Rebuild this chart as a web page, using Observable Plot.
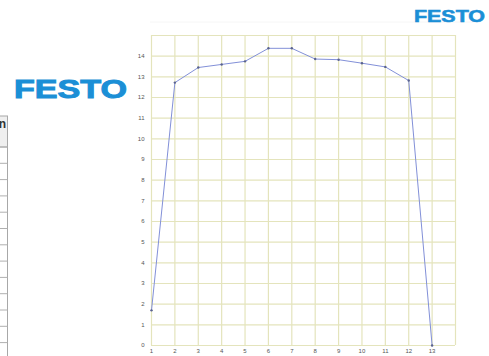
<!DOCTYPE html>
<html>
<head>
<meta charset="utf-8">
<script src="https://cdn.jsdelivr.net/npm/d3@7"></script>
<script src="https://cdn.jsdelivr.net/npm/@observablehq/plot@0.6"></script>
<style>
  html, body { margin: 0; padding: 0; background: #fff; }
  #wrap { position: relative; width: 489px; height: 356px; overflow: hidden; font-family: "Liberation Sans", Arial, sans-serif; }
  #wrap > svg { position: absolute; left: 0; top: 0; }
</style>
</head>
<body>
<div id="wrap"></div>
<script>
// Data
const positions = [1, 2, 3, 4, 5, 6, 7, 8, 9, 10, 11, 12, 13];
const values = [1.7, 12.72, 13.45, 13.6, 13.75, 14.38, 14.38, 13.86, 13.83, 13.66, 13.48, 12.82, 0];
const xTicks = [1, 2, 3, 4, 5, 6, 7, 8, 9, 10, 11, 12, 13];
const xGrid = [1, 2, 3, 4, 5, 6, 7, 8, 9, 10, 11, 12, 13, 14];
const yTicks = [0, 1, 2, 3, 4, 5, 6, 7, 8, 9, 10, 11, 12, 13, 14];
const yGrid = [0, 1, 2, 3, 4, 5, 6, 7, 8, 9, 10, 11, 12, 13, 14, 15];
const logoText = "FESTO";
const tableHeader = "n";

const data = positions.map((x, i) => ({x, y: values[i]}));
const gridColor = "#e4e4bc";

const chart = Plot.plot({
  width: 489,
  height: 356,
  marginLeft: 151,
  marginRight: 34,
  marginTop: 35,
  marginBottom: 11,
  style: {background: "transparent", fontFamily: "Liberation Sans, Arial, sans-serif"},
  x: {domain: [1, 14]},
  y: {domain: [0, 15]},
  marks: [
    Plot.ruleX(xGrid, {stroke: gridColor, strokeWidth: 1.2}),
    Plot.ruleY(yGrid, {stroke: gridColor, strokeWidth: 1.2}),
    Plot.axisX(xTicks, {tickSize: 0, tickPadding: 3, fontSize: 6, fill: "#555", label: null}),
    Plot.axisY(yTicks, {tickSize: 0, tickPadding: 7, fontSize: 6, fill: "#555", label: null}),
    Plot.line(data, {x: "x", y: "y", stroke: "#8290d8", strokeWidth: 1}),
    Plot.dot(data, {x: "x", y: "y", r: 1.2, fill: "#5a6390", stroke: null})
  ]
});
const wrap = document.getElementById("wrap");
wrap.appendChild(chart);

// Decorations: logos, faint header line, table fragment
const deco = d3.select(wrap).append("svg")
  .attr("width", 489).attr("height", 356)
  .style("pointer-events", "none");

deco.append("line").attr("x1", 150).attr("x2", 480).attr("y1", 22).attr("y2", 22)
  .attr("stroke", "#f6f6f6").attr("stroke-width", 1);

deco.append("text").text(logoText)
  .attr("x", 414).attr("y", 21.5)
  .attr("textLength", 71).attr("lengthAdjust", "spacingAndGlyphs")
  .attr("font-family", "Liberation Sans, Arial, sans-serif")
  .attr("font-weight", 900).attr("font-size", 17)
  .attr("fill", "#1b8fd6").attr("stroke", "#1b8fd6").attr("stroke-width", 0.6);

deco.append("text").text(logoText)
  .attr("x", 14).attr("y", 98)
  .attr("textLength", 113).attr("lengthAdjust", "spacingAndGlyphs")
  .attr("font-family", "Liberation Sans, Arial, sans-serif")
  .attr("font-weight", 900).attr("font-size", 26.5)
  .attr("fill", "#1b8fd6").attr("stroke", "#1b8fd6").attr("stroke-width", 1);

// table fragment at the left edge
const tbl = deco.append("g");
tbl.append("rect").attr("x", -2).attr("y", 116).attr("width", 9.5).attr("height", 31)
  .attr("fill", "#efefef").attr("stroke", "#a8a8a8").attr("stroke-width", 1);
tbl.append("text").text(tableHeader).attr("x", 6).attr("y", 128)
  .attr("text-anchor", "end").attr("font-size", 12).attr("font-weight", "bold")
  .attr("font-family", "Liberation Sans, Arial, sans-serif").attr("fill", "#333");
tbl.append("line").attr("x1", 7.5).attr("x2", 7.5).attr("y1", 116).attr("y2", 356)
  .attr("stroke", "#a8a8a8").attr("stroke-width", 1);
for (let i = 0; i < 13; i++) {
  const yy = 147 + i * 16.3;
  tbl.append("line").attr("x1", 0).attr("x2", 7.5).attr("y1", yy).attr("y2", yy)
    .attr("stroke", "#b0b0b0").attr("stroke-width", 1);
}
</script>
</body>
</html>
